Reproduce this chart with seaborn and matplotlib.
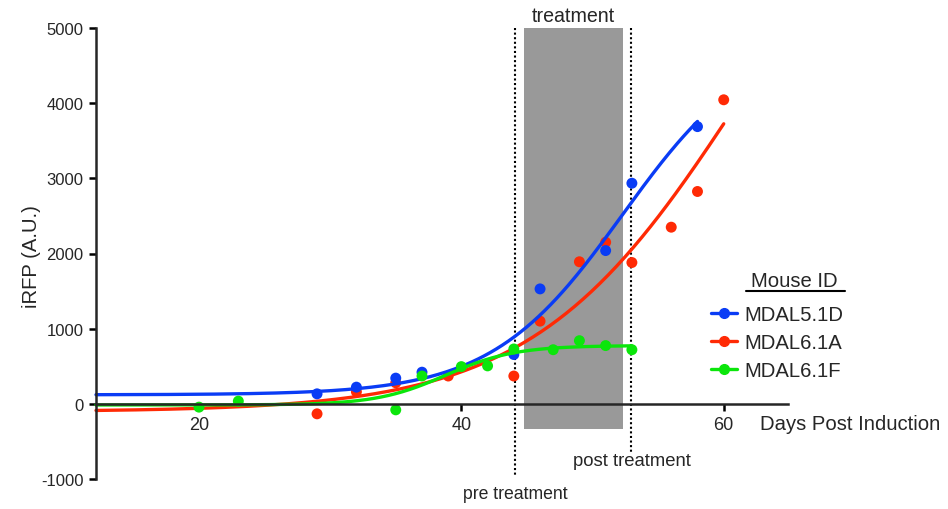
#!/usr/bin/env python3
import numpy as np
import pandas as pd
import matplotlib
matplotlib.use("Agg")
import matplotlib.pyplot as plt
import seaborn as sns
from matplotlib.lines import Line2D

# measured points (days post induction, iRFP A.U.)
blue_days = [29, 32, 35, 37, 44, 46, 51, 53, 58]
blue_vals = [133, 222, 342, 421, 656, 1529, 2039, 2935, 3688]

red_days = [29, 32, 35, 39, 44, 46, 49, 51, 53, 56, 58, 60]
red_vals = [-133, 160, 280, 370, 370, 1100, 1890, 2150, 1880, 2350, 2825, 4045]

green_days = [20, 23, 35, 37, 40, 42, 44, 47, 49, 51, 53]
green_vals = [-44, 36, -80, 370, 495, 505, 730, 720, 840, 775, 720]

mouse_ids = ["MDAL5.1D", "MDAL6.1A", "MDAL6.1F"]
mouse_colors = ["#0a3cf5", "#ff2a05", "#0be60b"]

# sigmoidal fit parameters (bottom, top, x50, rate) and last fitted day
blue_fit = (120, 4800, 52.3, 0.20)
red_fit = (-105, 8400, 61.4, 0.126)
green_fit = (-15, 790, 38.8, 0.38)
fit_end = [58, 60, 53]

# treatment window
pre_day = 44.08
post_day = 52.97
shade_start = 44.76
shade_end = 52.3

XLIM = (12.15, 64.9)
YLIM = (-1000, 5000)
FONT = ["Liberation Sans", "DejaVu Sans"]


def sigmoid(x, bottom, top, x50, rate):
    return bottom + top / (1.0 + np.exp(-rate * (x - x50)))


def main():
    sns.set_style("ticks")
    plt.rcParams["font.family"] = FONT
    plt.rcParams["axes.unicode_minus"] = False

    fig = plt.figure(figsize=(9.48, 5.10), dpi=100)
    W, H = 948, 510
    ax = fig.add_axes([96 / W, 30 / H, (788 - 96) / W, (480 - 29) / H])

    # treatment shading and pre/post markers
    ax.fill_between([shade_start, shade_end], -333, 5000, color="#999999", lw=0, zorder=1)
    ax.plot([pre_day, pre_day], [5000, -975], color="black", lw=1.5,
            ls=(0, (1, 1.2)), clip_on=False, zorder=2)
    ax.plot([post_day, post_day], [5000, -640], color="black", lw=1.5,
            ls=(0, (1, 1.2)), clip_on=False, zorder=2)

    series = [
        (blue_days, blue_vals, blue_fit, 0),
        (red_days, red_vals, red_fit, 1),
        (green_days, green_vals, green_fit, 2),
    ]
    zorders = [4, 3, 5]
    for days, vals, fit, i in series:
        color = mouse_colors[i]
        xs = np.linspace(XLIM[0], fit_end[i], 300)
        curve = pd.DataFrame({"day": xs, "irfp": sigmoid(xs, *fit)})
        sns.lineplot(data=curve, x="day", y="irfp", color=color, lw=2.4,
                     ax=ax, zorder=zorders[i], clip_on=False)
        pts = pd.DataFrame({"day": days, "irfp": vals})
        sns.scatterplot(data=pts, x="day", y="irfp", color=color, s=62,
                        edgecolor="none", ax=ax, zorder=zorders[i] + 0.5, clip_on=False)

    ax.set_xlim(*XLIM)
    ax.set_ylim(*YLIM)
    ax.set_xticks([20, 40, 60])
    ax.set_yticks(range(-1000, 5001, 1000))
    ax.spines["top"].set_visible(False)
    ax.spines["right"].set_visible(False)
    ax.spines["bottom"].set_position(("data", 0))
    for sp in ("left", "bottom"):
        ax.spines[sp].set_linewidth(1.8)
        ax.spines[sp].set_zorder(6)
    ax.tick_params(axis="both", direction="out", length=5, width=1.8, color="black")
    ax.tick_params(axis="x", labelsize=13, pad=4)
    ax.tick_params(axis="y", labelsize=12, pad=4)

    ax.set_xlabel("Days Post Induction", fontsize=14.6, ha="left", va="baseline")
    ax.xaxis.set_label_coords((760 - 96) / 692, (480 - 430) / 451)
    ax.set_ylabel("iRFP (A.U.)", fontsize=14.6)
    ax.yaxis.set_label_coords((41 - 96) / 692, (480 - 257) / 451)

    mid = (shade_start + shade_end) / 2
    ax.annotate("treatment", xy=(mid, 5000), xytext=(0, 5.3), textcoords="offset points",
                ha="center", va="baseline", fontsize=14.1, annotation_clip=False)
    ax.text(pre_day, -1250, "pre treatment", ha="center", va="baseline",
            fontsize=12.7, clip_on=False)
    ax.text(post_day, -820, "post treatment", ha="center", va="baseline",
            fontsize=13.3, clip_on=False)

    # legend with underlined title
    handles = [Line2D([], [], color=c, lw=2.4, marker="o", markersize=7) for c in mouse_colors]
    ax.legend(handles, mouse_ids, loc="upper left", bbox_to_anchor=(711 / W, 1 - 306 / H),
              bbox_transform=fig.transFigure, frameon=False, fontsize=14.6,
              handlelength=1.3, handletextpad=0.35, borderpad=0, borderaxespad=0,
              labelspacing=0.45)
    fig.text(794 / W, 1 - 286.7 / H, "Mouse ID", ha="center", va="baseline", fontsize=14.6)
    fig.add_artist(Line2D([746 / W, 845 / W], [1 - 292 / H] * 2, color="black", lw=1.5))

    fig.savefig("out.png", dpi=100)


if __name__ == "__main__":
    main()
